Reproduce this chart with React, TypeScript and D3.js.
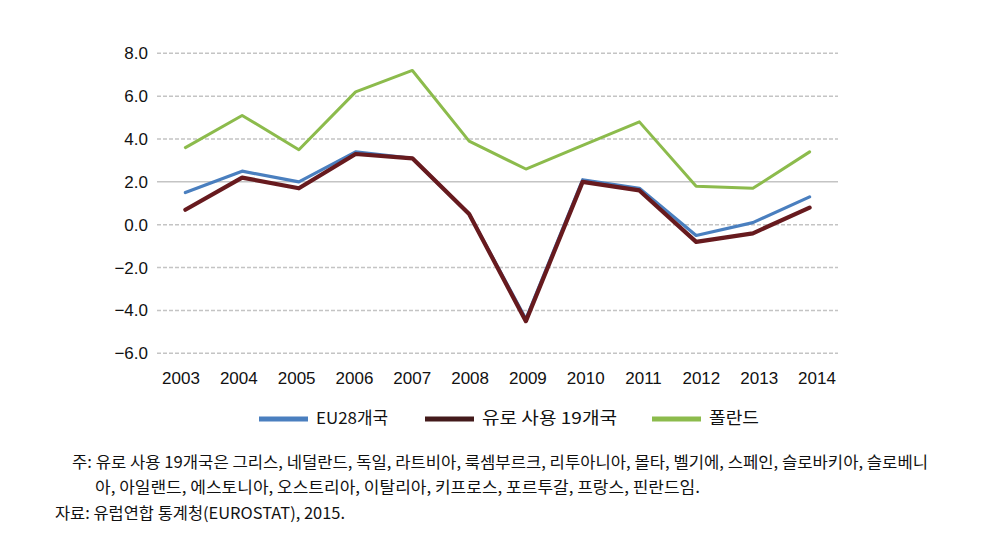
import React from "react";
import * as d3 from "d3";

const years = ["2003","2004","2005","2006","2007","2008","2009","2010","2011","2012","2013","2014"];
const eu28 = [1.5, 2.5, 2.0, 3.4, 3.1, 0.5, -4.4, 2.1, 1.7, -0.5, 0.1, 1.3];
const euro19 = [0.7, 2.2, 1.7, 3.3, 3.1, 0.5, -4.5, 2.0, 1.6, -0.8, -0.4, 0.8];
const poland = [3.6, 5.1, 3.5, 6.2, 7.2, 3.9, 2.6, 3.7, 4.8, 1.8, 1.7, 3.4];
const yTicks = [8, 6, 4, 2, 0, -2, -4, -6];
const seriesNames = ["EU28개국", "유로 사용 19개국", "폴란드"];
const noteLines = [
  "주: 유로 사용 19개국은 그리스, 네덜란드, 독일, 라트비아, 룩셈부르크, 리투아니아, 몰타, 벨기에, 스페인, 슬로바키아, 슬로베니",
  "아, 아일랜드, 에스토니아, 오스트리아, 이탈리아, 키프로스, 포르투갈, 프랑스, 핀란드임.",
  "자료: 유럽연합 통계청(EUROSTAT), 2015.",
];

const W = 1001, H = 554;
const left = 157, right = 838, top = 53.3, bottom = 353.3;

export default function App() {
  const x = d3.scaleBand<string>().domain(years).range([left, right]);
  const xLabel = d3.scalePoint<string>().domain(years).range([181, 817]);
  const y = d3.scaleLinear().domain([-6, 8]).range([bottom, top]);
  const cx = (d: string) => (x(d) as number) + x.bandwidth() / 2;
  const line = d3.line<number>().x((_, i) => cx(years[i])).y((v) => y(v));

  const series = [
    { name: seriesNames[0], data: eu28, color: "#4a7fbf", width: 3.2 },
    { name: seriesNames[2], data: poland, color: "#8cbb4c", width: 3 },
    { name: seriesNames[1], data: euro19, color: "#671a1e", width: 4.2 },
  ];
  const legendItems = [
    { name: seriesNames[0], color: "#4a7fbf", x0: 259, tl: 72 },
    { name: seriesNames[1], color: "#431a1b", x0: 425, tl: 135 },
    { name: seriesNames[2], color: "#8cbb4c", x0: 652, tl: 50 },
  ];
  const fmt = (v: number) => (v < 0 ? "−" : "") + Math.abs(v).toFixed(1);
  const font = "'Liberation Sans', Arial, sans-serif";
  const kfont = "'Noto Sans CJK KR', 'Noto Sans', sans-serif";

  return (
    <svg width={W} height={H} style={{ position: "absolute", left: 0, top: 0, background: "#fff" }}>
      {yTicks.map((t) => (
        <g key={t}>
          <line x1={left} x2={right} y1={y(t)} y2={y(t)} stroke="#c4c4c4" strokeWidth={1.5}
            strokeDasharray={t === 2 ? undefined : "4,2"} />
          <text x={148} y={y(t)} dy="0.35em" textAnchor="end" fontFamily={font} fontSize={17} fill="#111">
            {fmt(t)}
          </text>
        </g>
      ))}
      {years.map((yr) => (
        <text key={yr} x={xLabel(yr)} y={384} textAnchor="middle" fontFamily={font} fontSize={17} fill="#111">
          {yr}
        </text>
      ))}
      {series.map((s) => (
        <path key={s.name} d={line(s.data) || ""} fill="none" stroke={s.color} strokeWidth={s.width}
          strokeLinejoin="round" strokeLinecap="round" />
      ))}
      {legendItems.map((l) => (
        <g key={l.name}>
          <rect x={l.x0} y={416.5} width={49} height={5} fill={l.color} />
          <text x={l.x0 + 57} y={418} dy="0.35em" fontFamily={kfont} fontSize={16.5} fill="#111"
            textLength={l.tl} lengthAdjust="spacingAndGlyphs">{l.name}</text>
        </g>
      ))}
      <text x={72} y={468} fontFamily={kfont} fontSize={16} fill="#111" textLength={856} lengthAdjust="spacingAndGlyphs">{noteLines[0]}</text>
      <text x={95} y={493} fontFamily={kfont} fontSize={16} fill="#111" textLength={605} lengthAdjust="spacingAndGlyphs">{noteLines[1]}</text>
      <text x={55} y={519} fontFamily={kfont} fontSize={16} fill="#111" textLength={290} lengthAdjust="spacingAndGlyphs">{noteLines[2]}</text>
    </svg>
  );
}
